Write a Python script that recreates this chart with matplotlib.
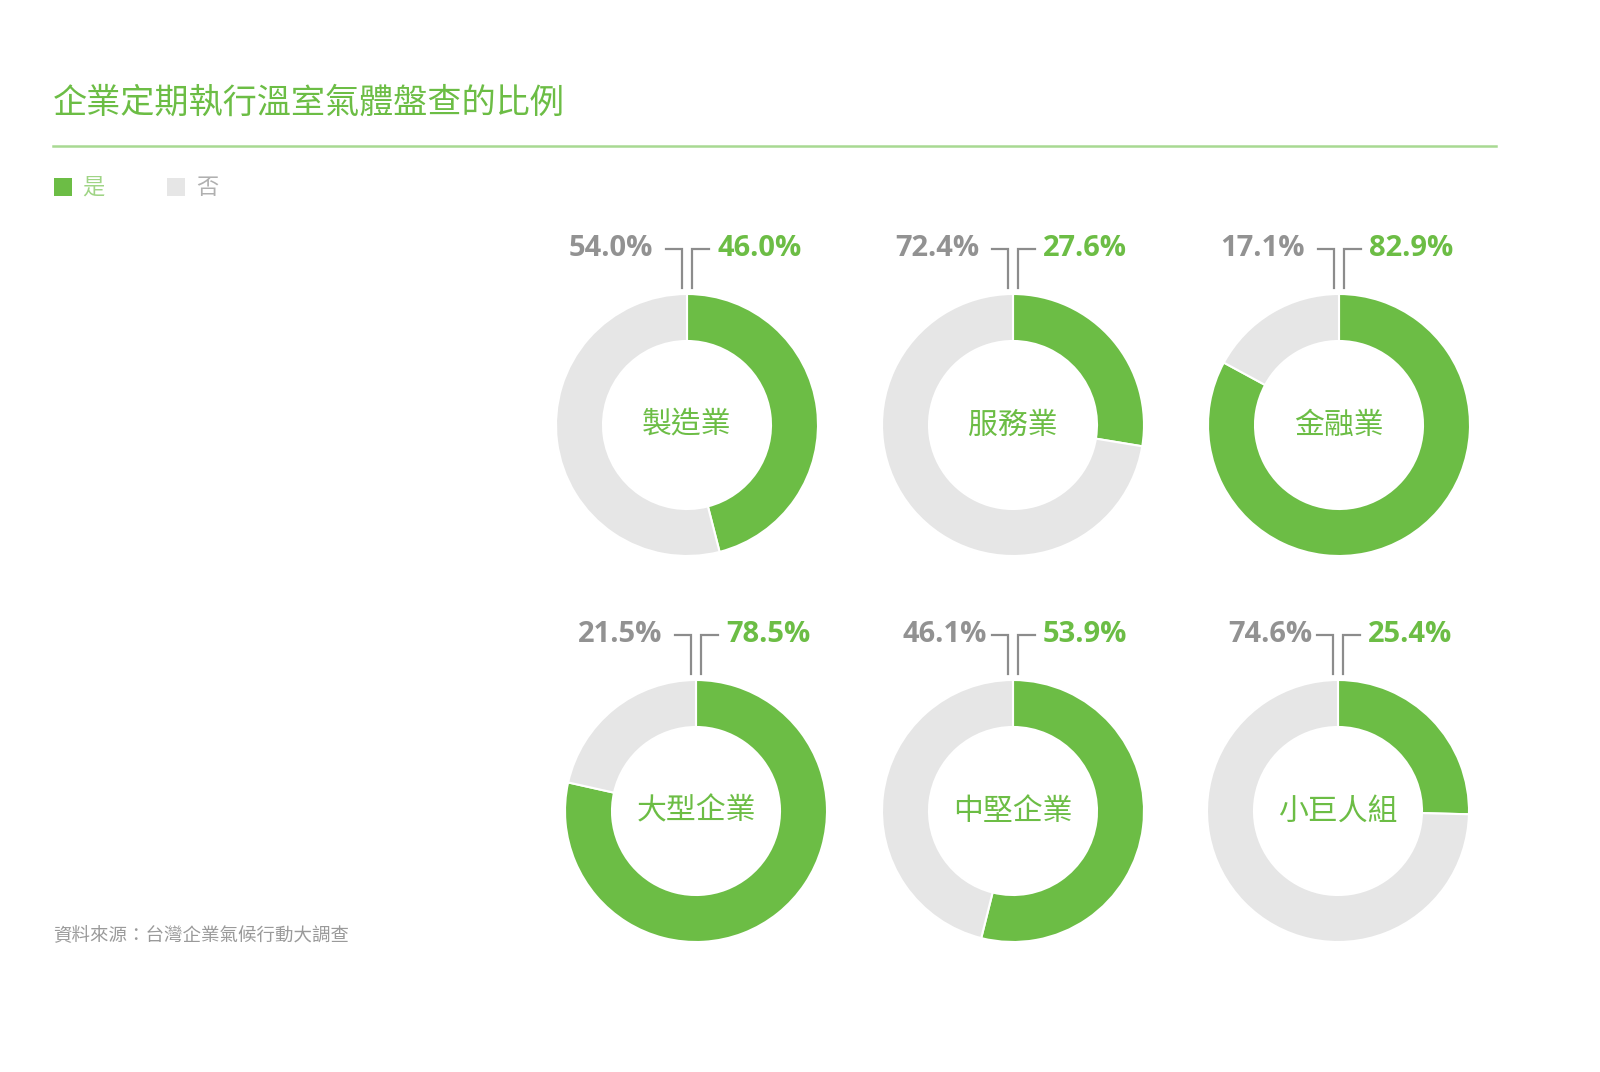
import matplotlib
matplotlib.use("Agg")
import matplotlib.pyplot as plt
from matplotlib.patches import Rectangle

plt.rcParams['font.family'] = ['Noto Sans CJK TC', 'DejaVu Sans']

# data
categories = ['製造業', '服務業', '金融業', '大型企業', '中堅企業', '小巨人組']
yes_pct = [46.0, 27.6, 82.9, 78.5, 53.9, 25.4]
no_pct = [54.0, 72.4, 17.1, 21.5, 46.1, 74.6]
legend_labels = ['是', '否']
title = '企業定期執行溫室氣體盤查的比例'
source = '資料來源：台灣企業氣候行動大調查'

GREEN = '#6cbd45'
LGRAY = '#e6e6e6'
TGRAY = '#8c8c8c'

W, H = 1600, 1072
# donut layout in pixels (x, y from top)
centers = [(687, 425), (1013, 425), (1339, 425),
           (696, 811), (1013, 811), (1338, 811)]
gray_off = [34, 34, 34, 34, 26, 26]
R, RW = 131, 47


def Y(y):
    return H - y


fig = plt.figure(figsize=(16, 10.72), dpi=100)
ax = fig.add_axes([0, 0, 1, 1])

for i, (cx, cy) in enumerate(centers):
    ax.pie([yes_pct[i], no_pct[i]], center=(cx, Y(cy)), radius=R,
           startangle=90, counterclock=False, colors=[GREEN, LGRAY],
           wedgeprops=dict(width=RW, edgecolor='white', linewidth=1.5))
    ax.text(cx, Y(cy), categories[i], ha='center', va='center',
            fontsize=21.5, color=GREEN)
    ly = cy - R - 45
    vb = cy - R - 6
    # brackets
    ax.plot([cx - 21, cx - 5, cx - 5], [Y(ly), Y(ly), Y(vb)],
            color=TGRAY, lw=1.6, solid_joinstyle='miter')
    ax.plot([cx + 5, cx + 5, cx + 22], [Y(vb), Y(ly), Y(ly)],
            color=TGRAY, lw=1.6, solid_joinstyle='miter')
    ax.text(cx - gray_off[i], Y(ly), f'{no_pct[i]:.1f}%', ha='right',
            va='center', fontsize=21, color='#929292', fontweight='bold',
            family=['Open Sans', 'DejaVu Sans'])
    ax.text(cx + 30, Y(ly), f'{yes_pct[i]:.1f}%', ha='left',
            va='center', fontsize=21, color=GREEN, fontweight='bold',
            family=['Open Sans', 'DejaVu Sans'])

# title and rule
ax.text(53, Y(103), title, ha='left', va='center', fontsize=24.6, color=GREEN)
ax.plot([53, 1496], [Y(146), Y(146)], color='#a8d992', lw=1.8)

# legend
ax.add_patch(Rectangle((54, Y(196)), 18, 18, color=GREEN, lw=0))
ax.text(82, Y(187), legend_labels[0], ha='left', va='center',
        fontsize=16, color='#9fd485')
ax.add_patch(Rectangle((167, Y(196)), 18, 18, color=LGRAY, lw=0))
ax.text(196, Y(187), legend_labels[1], ha='left', va='center',
        fontsize=16, color='#b0b0b0')

# source
ax.text(53, Y(935), source, ha='left', va='center', fontsize=13.3,
        color='#9a9a9a')

ax.set_xlim(0, W)
ax.set_ylim(0, H)
ax.set_aspect('auto')
ax.axis('off')

fig.savefig('out.png', dpi=100, facecolor='white')
